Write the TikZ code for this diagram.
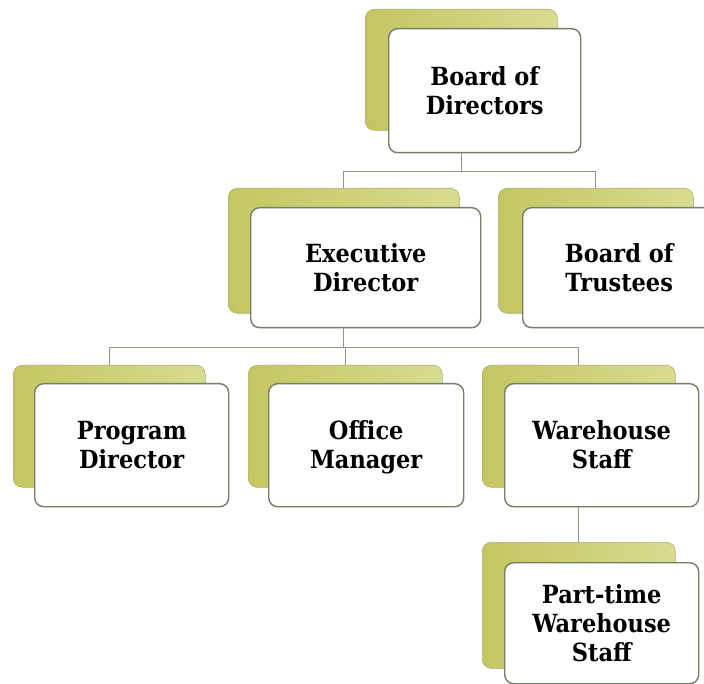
\documentclass[tikz,border=0pt]{standalone}
\usepackage{fontspec}
\setmainfont{DejaVu Serif Condensed}
\usetikzlibrary{calc}
\newcommand\mystrut{\rule[-5pt]{0pt}{28pt}}
\definecolor{boxline}{HTML}{767E66}
\definecolor{oliveL}{HTML}{C3C660}
\definecolor{oliveR}{HTML}{D8DC90}
\definecolor{oliveB}{HTML}{A9AE6E}
\definecolor{connc}{HTML}{8E9A84}
\begin{document}
\begin{tikzpicture}[x=1pt,y=-1pt,
  back/.style={rounded corners=9pt, left color=oliveL, right color=oliveR,
    draw=oliveB, line width=0.6pt, inner sep=0pt, anchor=north west},
  front/.style={rounded corners=9pt, fill=white, draw=boxline, line width=1.4pt,
    align=center, inner sep=0pt, anchor=north west,
    font=\bfseries\fontsize{25}{29}\selectfont},
  conn/.style={draw=connc, line width=1.3pt}]
\useasboundingbox[fill=white] (0,0) rectangle (704,684);
% back (green) boxes
\node[back, minimum width=192pt, minimum height=121pt] (bodB) at (365,9) {};
\node[back, minimum width=231pt, minimum height=125pt] (exB) at (228,188) {};
\node[back, minimum width=195pt, minimum height=125pt] (trB) at (498,188) {};
\node[back, minimum width=192pt, minimum height=122pt] (pdB) at (13,365) {};
\node[back, minimum width=194pt, minimum height=122pt] (omB) at (248,365) {};
\node[back, minimum width=193pt, minimum height=122pt] (wsB) at (482,365) {};
\node[back, minimum width=193pt, minimum height=126pt] (ptB) at (482,542) {};
% front boxes
\node[front, minimum width=192pt, minimum height=124pt] (bod) at (388,28) {\mystrut Board of\\\mystrut Directors};
\node[front, minimum width=230pt, minimum height=120pt] (ex) at (250,207) {\mystrut Executive\\\mystrut Director};
\node[front, minimum width=193pt, minimum height=120pt] (tr) at (522,207) {\mystrut Board of\\\mystrut Trustees};
\node[front, minimum width=194pt, minimum height=123pt] (pd) at (34,383) {\mystrut Program\\\mystrut Director};
\node[front, minimum width=195pt, minimum height=123pt] (om) at (268,383) {\mystrut Office\\\mystrut Manager};
\node[front, minimum width=194pt, minimum height=123pt] (ws) at (504,383) {\mystrut Warehouse\\\mystrut Staff};
\node[front, minimum width=194pt, minimum height=121pt] (pt) at (504,562) {\mystrut Part-time\\\mystrut Warehouse\\\mystrut Staff};
% connectors
\coordinate (j1) at ($(bodB.center |- bod.south)+(0,18)$);
\draw[conn] (bodB.center |- bod.south) -- (j1);
\draw[conn] (j1) -| (exB.north);
\draw[conn] (j1) -| (trB.north);
\coordinate (j2) at ($(exB.center |- ex.south)+(0,19)$);
\draw[conn] (exB.center |- ex.south) -- (j2);
\draw[conn] (j2) -| (pdB.north);
\draw[conn] (j2) -| (omB.north);
\draw[conn] (j2) -| (wsB.north);
\draw[conn] (wsB.center |- ws.south) -- (ptB.north);
\end{tikzpicture}
\end{document}
